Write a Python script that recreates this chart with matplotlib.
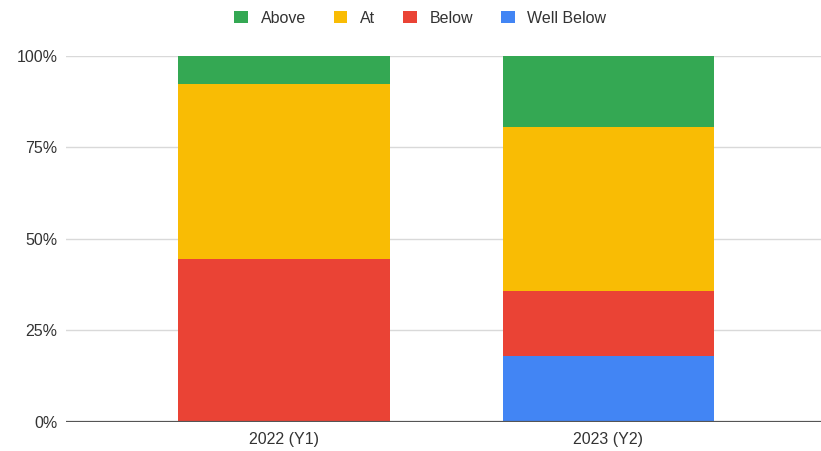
import matplotlib.pyplot as plt
import matplotlib.ticker as ticker
from matplotlib.patches import Patch
import numpy as np

plt.rcParams['font.family'] = ['Liberation Sans', 'DejaVu Sans']

years = ['2022 (Y1)', '2023 (Y2)']
well_below = [0.0, 18.0]
below = [44.5, 17.8]
at = [47.7, 44.7]
above = [7.8, 19.5]

COLORS = {
    'Above': '#34A853',
    'At': '#F9BC04',
    'Below': '#EA4335',
    'Well Below': '#4285F4',
}

fig = plt.figure(figsize=(8.21, 4.51), dpi=100)
ax = fig.add_axes([0.0804, 0.0643, 0.9196, 0.8122])

x = np.arange(len(years))
width = 0.653

# stack from the bottom up
bottom = np.zeros(len(years))
for name, values in [('Well Below', well_below), ('Below', below),
                     ('At', at), ('Above', above)]:
    ax.bar(x, values, width, bottom=bottom, color=COLORS[name],
           linewidth=0, zorder=3)
    bottom += np.array(values)

ax.set_xlim(-0.672, 1.655)
ax.set_ylim(0, 100)
ax.set_yticks([0, 25, 50, 75, 100])
ax.yaxis.set_major_formatter(ticker.FuncFormatter(lambda v, _: f'{v:.0f}%'))
ax.set_xticks(x)
ax.set_xticklabels(years)

ax.grid(axis='y', color='#d9d9d9', linewidth=1, zorder=0)
ax.axhline(0, color='#555555', linewidth=1.6, zorder=4)
for side in ['top', 'right', 'left', 'bottom']:
    ax.spines[side].set_visible(False)
ax.tick_params(axis='both', length=0, labelsize=11.5, labelcolor='#333333')
ax.tick_params(axis='y', pad=6)
ax.tick_params(axis='x', pad=7)

handles = [Patch(facecolor=COLORS[n], edgecolor='none', label=n)
           for n in ['Above', 'At', 'Below', 'Well Below']]
fig.legend(handles=handles, loc='center', bbox_to_anchor=(0.512, 0.96),
           ncol=4, frameon=False, fontsize=11.5, handlelength=0.85,
           handleheight=0.85, handletextpad=0.8, columnspacing=1.75,
           labelcolor='#333333')

fig.savefig('out.png', dpi=100)
